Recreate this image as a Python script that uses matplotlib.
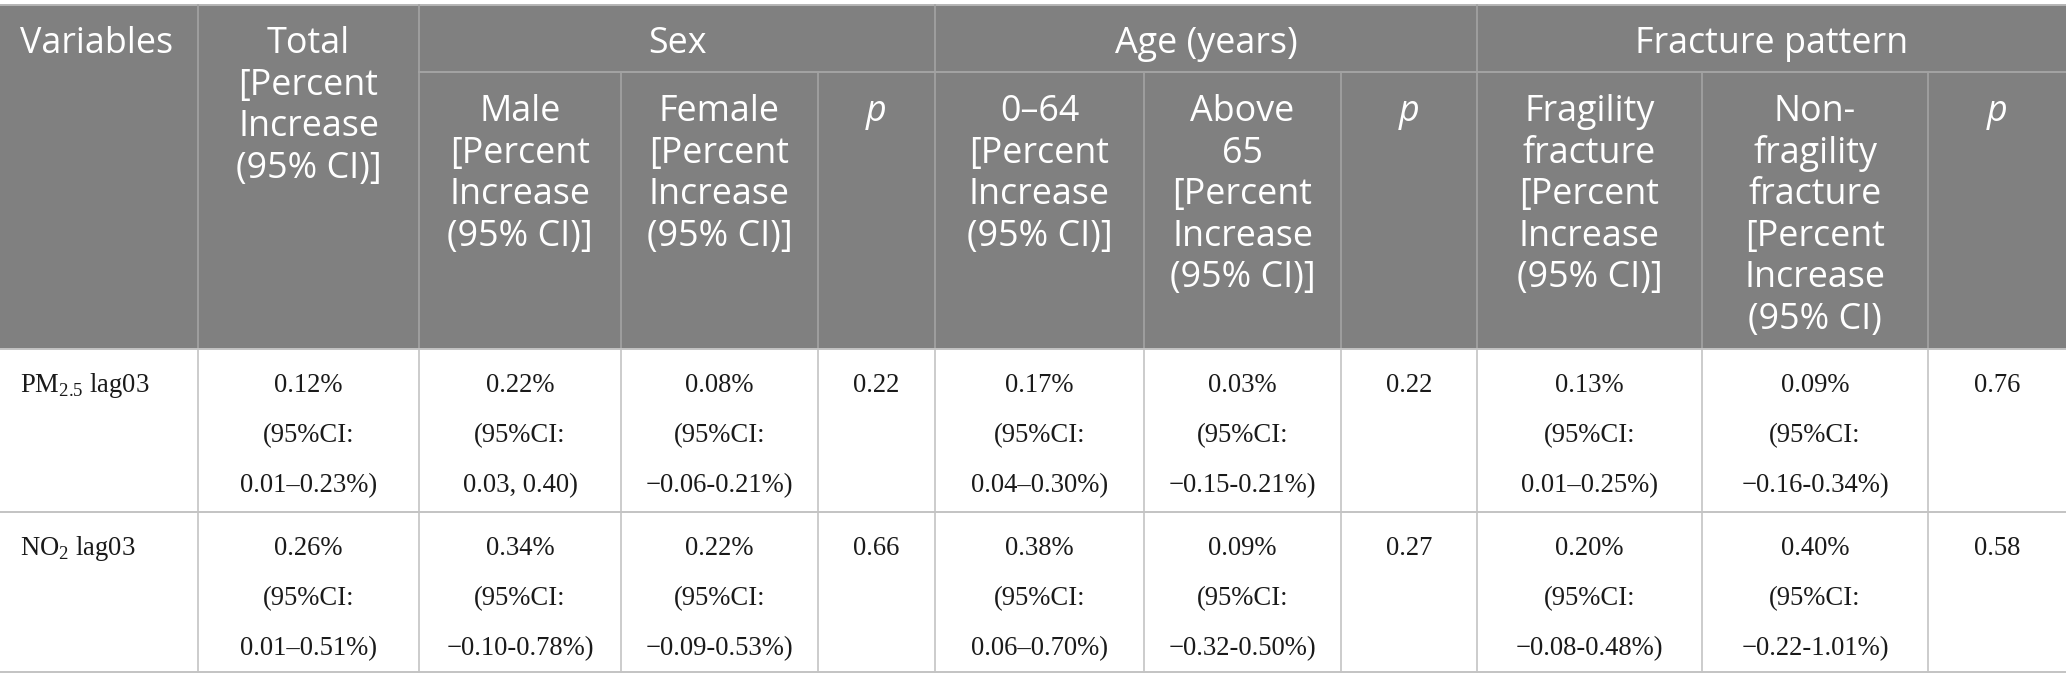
import matplotlib
matplotlib.use("Agg")
import matplotlib.pyplot as plt
from matplotlib.patches import Rectangle

plt.rcParams['mathtext.fontset'] = 'custom'
plt.rcParams['mathtext.rm'] = 'Liberation Serif'

# datos de la tabla
variables = ["PM$_{\\mathrm{2.5}}$ lag03", "NO$_{\\mathrm{2}}$ lag03"]
grupos = ["Sex", "Age (years)", "Fracture pattern"]
encabezados = [
    "Variables",
    "Total\n[Percent\nIncrease\n(95% CI)]",
    "Male\n[Percent\nIncrease\n(95% CI)]",
    "Female\n[Percent\nIncrease\n(95% CI)]",
    "p",
    "0–64\n[Percent\nIncrease\n(95% CI)]",
    "Above\n65\n[Percent\nIncrease\n(95% CI)]",
    "p",
    "Fragility\nfracture\n[Percent\nIncrease\n(95% CI)]",
    "Non-\nfragility\nfracture\n[Percent\nIncrease\n(95% CI)",
    "p",
]
total_est = ["0.12%", "0.26%"]
total_ci = ["0.01–0.23%", "0.01–0.51%"]
male_est = ["0.22%", "0.34%"]
male_ci = ["0.03, 0.40", "−0.10-0.78%"]
female_est = ["0.08%", "0.22%"]
female_ci = ["−0.06-0.21%", "−0.09-0.53%"]
p_sex = ["0.22", "0.66"]
young_est = ["0.17%", "0.38%"]
young_ci = ["0.04–0.30%", "0.06–0.70%"]
old_est = ["0.03%", "0.09%"]
old_ci = ["−0.15-0.21%", "−0.32-0.50%"]
p_age = ["0.22", "0.27"]
frag_est = ["0.13%", "0.20%"]
frag_ci = ["0.01–0.25%", "−0.08-0.48%"]
nonfrag_est = ["0.09%", "0.40%"]
nonfrag_ci = ["−0.16-0.34%", "−0.22-1.01%"]
p_frac = ["0.76", "0.58"]

W, H = 2066, 691
xs = [0, 198, 419, 621, 818, 935, 1144, 1341, 1477, 1702, 1928, 2066]
y_top, y_sub, y_head, y_row, y_bot = 5, 72, 349, 512, 672
gris = "#808080"
linea_head = "#a3a3a3"
linea_body = "#c3c3c3"
fs_head = 25.8
fs_body = 19.2
paso_head = 41.5
paso_body = 50

fig = plt.figure(figsize=(W / 100, H / 100), dpi=100)
ax = fig.add_axes([0, 0, 1, 1])
ax.set_xlim(0, W)
ax.set_ylim(H, 0)
ax.axis("off")

# fondo del encabezado
ax.add_patch(Rectangle((0, y_top), W, y_head - y_top, color=gris, lw=0))


def celda(x, y, texto, ha="center", **kw):
    for i, linea in enumerate(texto.split("\n")):
        ax.text(x, y + i * paso_head, linea, ha=ha, va="baseline", color="white",
                fontsize=fs_head, family="Open Sans", **kw)


# encabezados
celda(xs[0] + 20, 53, encabezados[0], ha="left")
celda((xs[1] + xs[2]) / 2, 53, encabezados[1])
for g, nombre in enumerate(grupos):
    a, b = xs[2 + 3 * g], xs[5 + 3 * g]
    celda((a + b) / 2, 53, nombre)
for c in range(2, 11):
    estilo = "italic" if encabezados[c] == "p" else "normal"
    celda((xs[c] + xs[c + 1]) / 2, 121, encabezados[c], style=estilo)

# lineas del encabezado
ax.plot([0, W], [y_top, y_top], color="#b5b5b5", lw=1.4)
ax.plot([xs[2], W], [y_sub, y_sub], color=linea_head, lw=1.4)
for c in range(1, 11):
    y0 = y_top if c in (1, 2, 5, 8) else y_sub
    ax.plot([xs[c], xs[c]], [y0, y_head], color=linea_head, lw=1.2)

# cuerpo
columnas = [
    (total_est, total_ci), (male_est, male_ci), (female_est, female_ci), p_sex,
    (young_est, young_ci), (old_est, old_ci), p_age,
    (frag_est, frag_ci), (nonfrag_est, nonfrag_ci), p_frac,
]
tops = [y_head, y_row]
for r in range(2):
    yb = tops[r] + 43
    ax.text(xs[0] + 20, yb, variables[r], ha="left", va="baseline",
            fontsize=fs_body, family="Liberation Serif", color="#1a1a1a")
    for c, col in enumerate(columnas):
        xc = (xs[c + 1] + xs[c + 2]) / 2
        if isinstance(col, tuple):
            lineas = [col[0][r], "(95%CI:", col[1][r] + ")"]
        else:
            lineas = [col[r]]
        for i, t in enumerate(lineas):
            ax.text(xc, yb + i * paso_body, t, ha="center", va="baseline",
                    fontsize=fs_body, family="Liberation Serif", color="#1a1a1a")

for y in (y_head, y_row, y_bot):
    ax.plot([0, W], [y, y], color=linea_body, lw=1.4)
for c in range(1, 11):
    ax.plot([xs[c], xs[c]], [y_head, y_bot], color=linea_body, lw=1.2)

fig.savefig("out.png", dpi=100)
